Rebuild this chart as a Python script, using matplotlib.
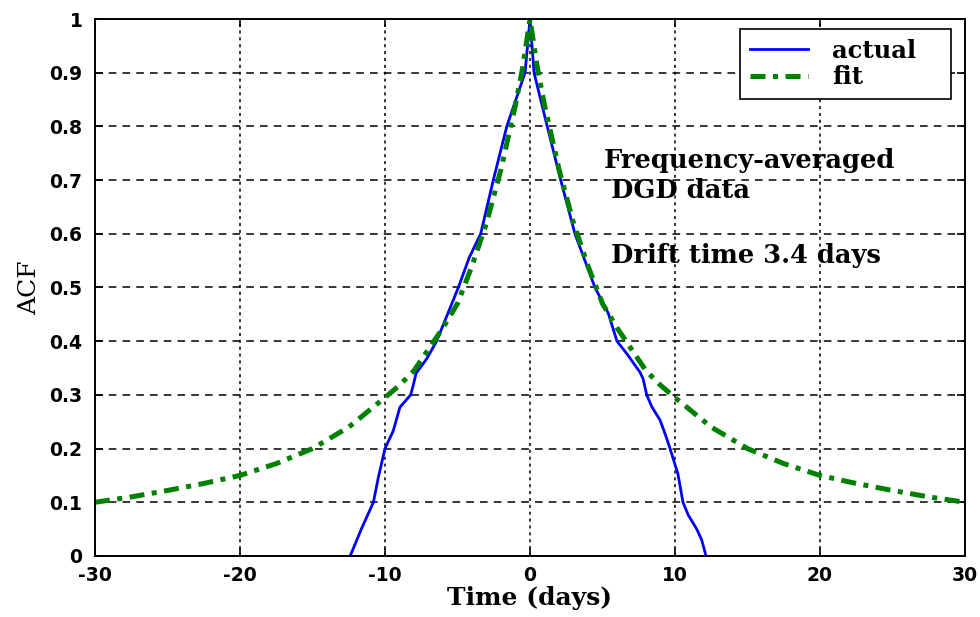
import matplotlib
matplotlib.use('Agg')
import matplotlib.pyplot as plt

plt.rcParams['axes.unicode_minus'] = False

# measured ACF (blue)
actual_t = [-12.4, -11.6, -10.8, -10.46, -10.0, -9.43, -8.97, -8.23, -8.05, -7.86,
            -7.13, -6.44, -5.75, -4.94, -4.2, -3.4, -2.53, -1.6, -0.34, 0.0,
            0.28, 1.19, 2.12, 3.1, 4.48, 5.4, 6.0, 6.67, 7.59, 7.8, 8.05, 8.4,
            8.97, 9.31, 9.66, 10.2, 10.55, 10.92, 11.5, 11.84, 12.14]
actual_acf = [0.0, 0.052, 0.10, 0.146, 0.20, 0.233, 0.277, 0.30, 0.318, 0.34,
              0.367, 0.40, 0.446, 0.50, 0.555, 0.60, 0.70, 0.80, 0.90, 1.0,
              0.90, 0.80, 0.70, 0.60, 0.50, 0.452, 0.40, 0.377, 0.342, 0.33, 0.30, 0.278,
              0.253, 0.228, 0.20, 0.153, 0.10, 0.076, 0.05, 0.03, 0.0]

# fitted ACF (green)
fit_t = [-30, -27.5, -25, -22.5, -20, -17.5, -15, -12.5, -10, -9, -8, -7, -6, -5, -4,
         -3, -2, -1.5, -1, -0.5, 0, 0.5, 1, 1.5, 2, 3, 4, 5, 6, 7, 8, 9, 10,
         12.5, 15, 17.5, 20, 22.5, 25, 27.5, 30]
fit_acf = [0.10, 0.11, 0.122, 0.135, 0.15, 0.172, 0.20, 0.24, 0.295, 0.318, 0.345, 0.385,
           0.425, 0.47, 0.54, 0.62, 0.72, 0.78, 0.84, 0.91, 1.0, 0.91, 0.84, 0.78, 0.72,
           0.62, 0.54, 0.47, 0.425, 0.385, 0.345, 0.318, 0.295, 0.24, 0.20, 0.172, 0.15,
           0.135, 0.122, 0.11, 0.10]

x_ticks = [-30, -20, -10, 0, 10, 20, 30]
y_ticks = [0, 0.1, 0.2, 0.3, 0.4, 0.5, 0.6, 0.7, 0.8, 0.9, 1]
y_labels = ['0', '0.1', '0.2', '0.3', '0.4', '0.5', '0.6', '0.7', '0.8', '0.9', '1']

serif = {'family': 'DejaVu Serif', 'weight': 'bold'}

fig = plt.figure(figsize=(9.8, 6.17), dpi=100)
ax = fig.add_axes([0.0969, 0.0989, 0.8878, 0.8703])

ax.plot(actual_t, actual_acf, color='#0000ff', lw=2, label='actual')
ax.plot(fit_t, fit_acf, color='#008000', lw=3.6, dashes=(3, 1.5, 1, 1.5), label='fit')

ax.set_xlim(-30, 30)
ax.set_ylim(0, 1)
ax.set_xticks(x_ticks)
ax.set_yticks(y_ticks)
ax.set_yticklabels(y_labels)

for v in x_ticks[1:-1]:
    ax.axvline(v, color='black', lw=1.1, dashes=(2, 2.5), zorder=0)
for v in y_ticks[1:-1]:
    ax.axhline(v, color='black', lw=1.1, dashes=(5, 4), zorder=0)

ax.tick_params(direction='in', length=6, width=1.2, top=True, right=True, pad=7)
ax.tick_params(axis='y', pad=9)
for lab in ax.get_xticklabels() + ax.get_yticklabels():
    lab.set_fontfamily('DejaVu Sans')
    lab.set_fontweight('bold')
    lab.set_fontsize(13.5)
for s in ax.spines.values():
    s.set_linewidth(1.4)

ax.set_xlabel('Time (days)', fontdict=serif, fontsize=18, labelpad=1)
ax.set_ylabel('ACF', family='DejaVu Serif', fontsize=18, labelpad=6)

ax.text(5.1, 0.737, 'Frequency-averaged', fontdict=serif, fontsize=18.5, va='center')
ax.text(5.6, 0.68, 'DGD data', fontdict=serif, fontsize=18.5, va='center')
ax.text(5.6, 0.56, 'Drift time 3.4 days', fontdict=serif, fontsize=18.5, va='center')

leg = ax.legend(loc='upper left', bbox_to_anchor=(0.7414, 0.8548, 0.2425, 0.1266),
                mode='expand', borderaxespad=0,
                prop={'family': 'DejaVu Serif', 'weight': 'bold', 'size': 17.5},
                handlelength=2.4, handletextpad=1.0, labelspacing=0.1,
                borderpad=0.4, fancybox=False, framealpha=1, edgecolor='black')
leg.get_frame().set_linewidth(1.2)

fig.savefig('out.png', dpi=100)
